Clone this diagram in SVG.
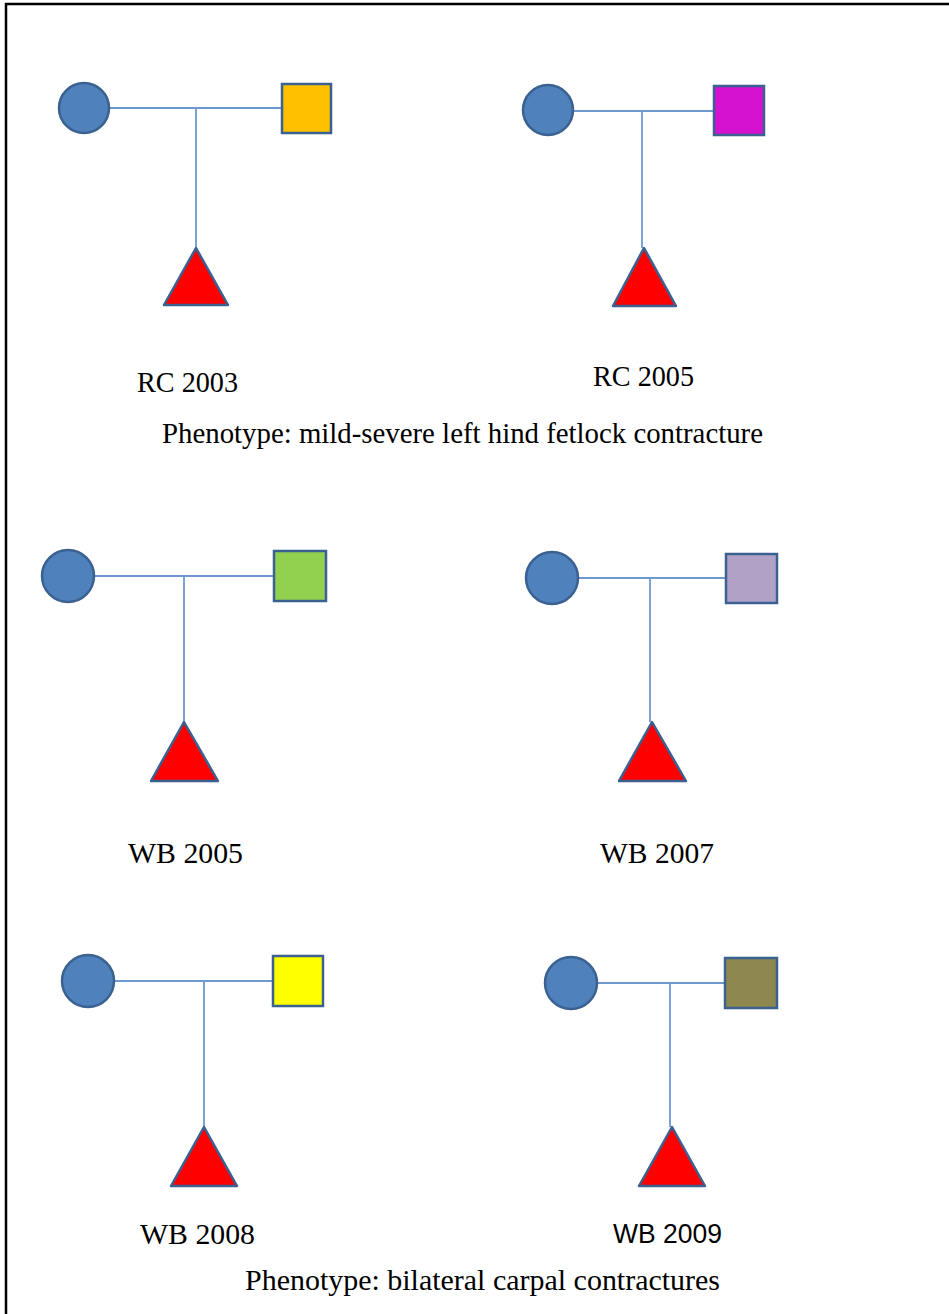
<svg xmlns="http://www.w3.org/2000/svg" width="949" height="1314" viewBox="0 0 949 1314">
<style>
.bg{fill:#ffffff}
.frame{fill:none;stroke:#000000;stroke-width:2.5}
.f{fill:#4F81BD;stroke:#3A6190;stroke-width:2.5}
.m{stroke:#3A6190;stroke-width:2.5}
.c{fill:#FF0000;stroke:#3A6190;stroke-width:2.5;stroke-linejoin:round}
.ln{fill:none;stroke:#6F98CF;stroke-width:1.8}
.t{font-family:"Liberation Serif","Times New Roman",serif;font-size:30px;fill:#000000}
.s{font-family:"Liberation Sans",Arial,sans-serif;font-size:28px;fill:#000000}
</style>
<rect class="bg" x="0" y="0" width="949" height="1314"/>
<path class="frame" d="M6,1314 V4 H949"/>

<g id="connectors">
<path class="ln" d="M109,108 H282 M196,108 V248"/>
<path class="ln" d="M573,111 H714 M642,111 V248"/>
<path class="ln" d="M94,576 H274 M184,576 V722"/>
<path class="ln" d="M578,578 H726 M650,578 V722"/>
<path class="ln" d="M114,981 H273 M204,981 V1127"/>
<path class="ln" d="M597,983 H725 M670,983 V1127"/>
</g>

<g id="ped-rc2003">
<circle class="f" cx="84" cy="108" r="25"/>
<rect class="m" x="282" y="84" width="49" height="49" fill="#FFC000"/>
<polygon class="c" points="196,248 228,305 164,305"/>
<text class="t" x="137" y="392" textLength="101" lengthAdjust="spacingAndGlyphs">RC 2003</text>
</g>

<g id="ped-rc2005">
<circle class="f" cx="548" cy="110" r="25"/>
<rect class="m" x="714" y="86" width="50" height="49" fill="#D412CF"/>
<polygon class="c" points="644,248 676,306 613,306"/>
<text class="t" x="593" y="386" textLength="101" lengthAdjust="spacingAndGlyphs">RC 2005</text>
</g>

<text id="phen1" class="t" x="162" y="443" textLength="601" lengthAdjust="spacingAndGlyphs">Phenotype: mild-severe left hind fetlock contracture</text>

<g id="ped-wb2005">
<circle class="f" cx="68" cy="576" r="26"/>
<rect class="m" x="274" y="551" width="52" height="50" fill="#92D050"/>
<polygon class="c" points="184,722 218,781 151,781"/>
<text class="t" x="128" y="863" textLength="115" lengthAdjust="spacingAndGlyphs">WB 2005</text>
</g>

<g id="ped-wb2007">
<circle class="f" cx="552" cy="578" r="26"/>
<rect class="m" x="726" y="554" width="51" height="49" fill="#B2A1C7"/>
<polygon class="c" points="652,722 686,781 619,781"/>
<text class="t" x="600" y="863" textLength="114" lengthAdjust="spacingAndGlyphs">WB 2007</text>
</g>

<g id="ped-wb2008">
<circle class="f" cx="88" cy="981" r="26"/>
<rect class="m" x="273" y="956" width="50" height="50" fill="#FFFF00"/>
<polygon class="c" points="204,1127 237,1186 171,1186"/>
<text class="t" x="140" y="1244" textLength="115" lengthAdjust="spacingAndGlyphs">WB 2008</text>
</g>

<g id="ped-wb2009">
<circle class="f" cx="571" cy="983" r="26"/>
<rect class="m" x="725" y="958" width="52" height="50" fill="#8F8750"/>
<polygon class="c" points="672,1127 705,1186 639,1186"/>
<text class="s" x="613" y="1243" textLength="109" lengthAdjust="spacingAndGlyphs">WB 2009</text>
</g>

<text id="phen2" class="t" x="245" y="1290" textLength="475" lengthAdjust="spacingAndGlyphs">Phenotype: bilateral carpal contractures</text>
</svg>
